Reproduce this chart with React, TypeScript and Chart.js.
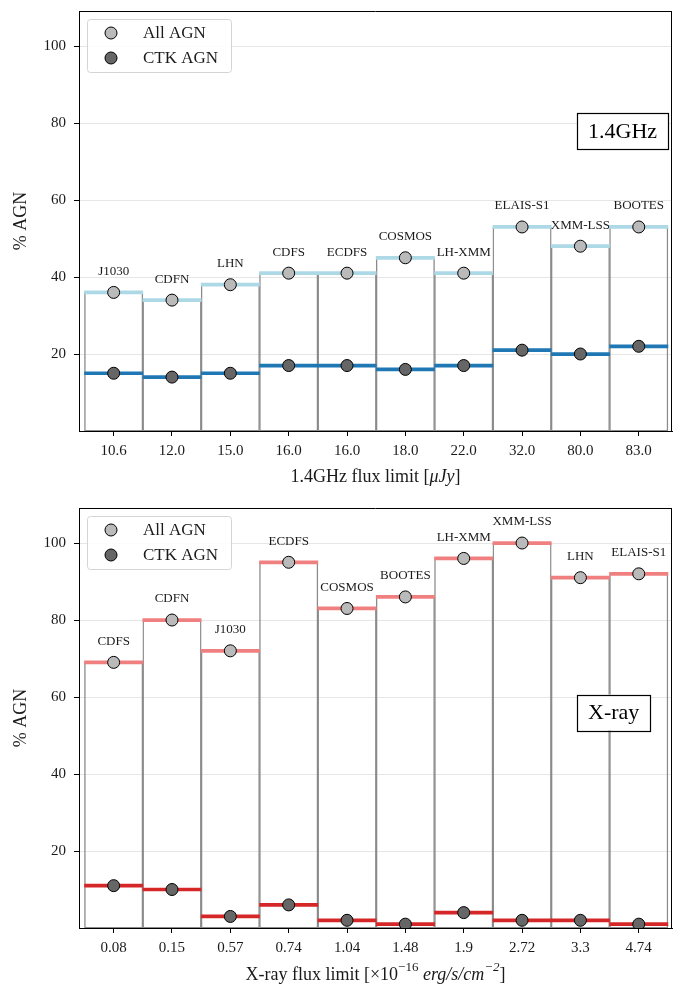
import React, { useEffect, useRef } from 'react';
import { Chart, registerables } from 'chart.js';

Chart.register(...registerables);

// ---------- data ----------
const radioFields = ['J1030', 'CDFN', 'LHN', 'CDFS', 'ECDFS', 'COSMOS', 'LH-XMM', 'ELAIS-S1', 'XMM-LSS', 'BOOTES'];
const radioTicks = ['10.6', '12.0', '15.0', '16.0', '16.0', '18.0', '22.0', '32.0', '80.0', '83.0'];
const radioAll = [36, 34, 38, 41, 41, 45, 41, 53, 48, 53];
const radioCtk = [15, 14, 15, 17, 17, 16, 17, 21, 20, 22];

const xrayFields = ['CDFS', 'CDFN', 'J1030', 'ECDFS', 'COSMOS', 'BOOTES', 'LH-XMM', 'XMM-LSS', 'LHN', 'ELAIS-S1'];
const xrayTicks = ['0.08', '0.15', '0.57', '0.74', '1.04', '1.48', '1.9', '2.72', '3.3', '4.74'];
const xrayAll = [69, 80, 72, 95, 83, 86, 96, 100, 91, 92];
const xrayCtk = [11, 10, 3, 6, 2, 1, 4, 2, 2, 1];

const yTickValues = [20, 40, 60, 80, 100];
const legendLabels = ['All AGN', 'CTK AGN'];

type Seg = { t: string; italic?: boolean; sup?: boolean };
const radioTitle: Seg[] = [{ t: '1.4GHz flux limit [' }, { t: 'μJy', italic: true }, { t: ']' }];
const xrayTitle: Seg[] = [
  { t: 'X-ray flux limit [×10' },
  { t: '−16', sup: true },
  { t: ' ' },
  { t: 'erg/s/cm', italic: true },
  { t: '−2', italic: true, sup: true },
  { t: ']' },
];

const FONT = "'Liberation Serif', 'DejaVu Serif', serif";
const ALL_MARK = '#bababa';
const CTK_MARK = '#666666';

type PanelProps = {
  fields: string[];
  ticks: string[];
  all: number[];
  ctk: number[];
  light: string;
  dark: string;
  title: Seg[];
  tag: string;
  tagY: number;
  height: number;
  top: number;
  titleY: number;
};

function Panel(p: PanelProps) {
  const ref = useRef<HTMLCanvasElement>(null);
  useEffect(() => {
    const idx = p.fields.map((_, i) => i);
    const half = 0.4;

    const decor = {
      id: 'decor',
      afterDatasetsDraw(chart: any) {
        const { ctx, scales, chartArea } = chart;
        const x = scales.x;
        const y = scales.y;
        ctx.save();
        // spines top/right
        ctx.strokeStyle = '#000';
        ctx.lineWidth = 1;
        ctx.beginPath();
        ctx.moveTo(chartArea.left, chartArea.top + 0.5);
        ctx.lineTo(chartArea.right, chartArea.top + 0.5);
        ctx.moveTo(chartArea.right - 0.5, chartArea.top);
        ctx.lineTo(chartArea.right - 0.5, chartArea.bottom);
        ctx.stroke();

        // field labels
        ctx.font = `13px ${FONT}`;
        ctx.fillStyle = '#1a1a1a';
        ctx.textAlign = 'center';
        ctx.textBaseline = 'middle';
        p.fields.forEach((f, i) => {
          ctx.fillText(f, x.getPixelForValue(i), y.getPixelForValue(p.all[i]) - 21);
        });

        // tag box
        ctx.font = `22px ${FONT}`;
        const w = ctx.measureText(p.tag).width;
        const bx = chartArea.left + (chartArea.right - chartArea.left) * 0.8398;
        const cy = chartArea.top + (chartArea.bottom - chartArea.top) * p.tagY;
        const bh = 36;
        const padX = 11;
        ctx.fillStyle = '#fff';
        ctx.fillRect(bx, cy - bh / 2, w + 2 * padX, bh);
        ctx.strokeStyle = '#000';
        ctx.lineWidth = 1.2;
        ctx.strokeRect(Math.round(bx) + 0.5, Math.round(cy - bh / 2) + 0.5, Math.round(w + 2 * padX), bh);
        ctx.fillStyle = '#000';
        ctx.textAlign = 'left';
        ctx.fillText(p.tag, bx + padX, cy + 1);

        // legend
        const lx = chartArea.left + 8;
        const ly = chartArea.top + 8;
        const lw = 144;
        const lh = 53;
        ctx.beginPath();
        ctx.roundRect(lx + 0.5, ly + 0.5, lw, lh, 3);
        ctx.fillStyle = 'rgba(255,255,255,0.85)';
        ctx.fill();
        ctx.strokeStyle = '#d4d4d4';
        ctx.lineWidth = 1;
        ctx.stroke();
        const markColors = [ALL_MARK, CTK_MARK];
        legendLabels.forEach((lab, k) => {
          const my = ly + 14 + k * 25;
          ctx.beginPath();
          ctx.arc(lx + 24, my, 6, 0, Math.PI * 2);
          ctx.fillStyle = markColors[k];
          ctx.fill();
          ctx.strokeStyle = '#000';
          ctx.lineWidth = 1;
          ctx.stroke();
          ctx.fillStyle = '#1a1a1a';
          ctx.font = `17px ${FONT}`;
          ctx.textAlign = 'left';
          ctx.textBaseline = 'middle';
          ctx.fillText(lab, lx + 56, my + 1);
        });

        // x-axis title (rich text)
        const base = 18;
        const fontFor = (s: Seg) => `${s.italic ? 'italic ' : ''}${s.sup ? Math.round(base * 0.7) : base}px ${FONT}`;
        let total = 0;
        p.title.forEach((s) => {
          ctx.font = fontFor(s);
          total += ctx.measureText(s.t).width;
        });
        let cx = (chartArea.left + chartArea.right) / 2 - total / 2;
        ctx.fillStyle = '#1a1a1a';
        ctx.textAlign = 'left';
        ctx.textBaseline = 'middle';
        p.title.forEach((s) => {
          ctx.font = fontFor(s);
          ctx.fillText(s.t, cx, p.titleY + (s.sup ? -7 : 0));
          cx += ctx.measureText(s.t).width;
        });
        ctx.restore();
      },
    };

    const chart = new Chart(ref.current as HTMLCanvasElement, {
      type: 'bar',
      data: {
        datasets: [
          {
            type: 'bar',
            data: p.all.map((v, i) => ({ x: i, y: [0, v] })) as any,
            backgroundColor: 'rgba(0,0,0,0)',
            borderColor: '#8a8a8a',
            borderWidth: 0.75,
            borderSkipped: false,
            barPercentage: 1,
            categoryPercentage: 1,
            grouped: false,
            order: 5,
          } as any,
          {
            type: 'bar',
            data: p.all.map((v, i) => ({ x: i, y: [v - half, v + half] })) as any,
            backgroundColor: p.light,
            borderWidth: 0,
            barPercentage: 1,
            categoryPercentage: 1,
            grouped: false,
            order: 3,
          } as any,
          {
            type: 'bar',
            data: p.ctk.map((v, i) => ({ x: i, y: [v - half, v + half] })) as any,
            backgroundColor: p.dark,
            borderWidth: 0,
            barPercentage: 1,
            categoryPercentage: 1,
            grouped: false,
            order: 2,
          } as any,
          {
            type: 'scatter',
            label: legendLabels[0],
            data: p.all.map((v, i) => ({ x: i, y: v })),
            pointRadius: 6,
            pointBackgroundColor: ALL_MARK,
            pointBorderColor: '#000',
            pointBorderWidth: 1,
            order: 1,
          } as any,
          {
            type: 'scatter',
            label: legendLabels[1],
            data: p.ctk.map((v, i) => ({ x: i, y: v })),
            pointRadius: 6,
            pointBackgroundColor: CTK_MARK,
            pointBorderColor: '#000',
            pointBorderWidth: 1,
            order: 0,
          } as any,
        ],
      },
      options: {
        responsive: false,
        animation: false,
        events: [],
        layout: { autoPadding: false, padding: { top: 11, right: 1, left: 0, bottom: 0 } },
        plugins: { legend: { display: false }, tooltip: { enabled: false } },
        scales: {
          x: {
            type: 'linear',
            min: -0.594,
            max: 9.57,
            offset: false,
            grid: { drawOnChartArea: false, color: '#000', tickColor: '#000', tickLength: 5, offset: false },
            border: { display: true, color: '#000', width: 1 },
            ticks: {
              font: { family: FONT, size: 15 },
              color: '#1a1a1a',
              padding: 6,
              maxRotation: 0,
              autoSkip: false,
              callback: (v: any) => p.ticks[v as number] ?? '',
            },
            afterBuildTicks: (s: any) => {
              s.ticks = idx.map((v) => ({ value: v }));
            },
            afterFit: (s: any) => {
              s.height = p.height - 11 - 420;
              s.paddingLeft = 0;
              s.paddingRight = 0;
              s.paddingTop = 0;
              s.paddingBottom = 0;
            },
          },
          y: {
            type: 'linear',
            min: 0,
            max: 109.1,
            grid: { color: '#e6e6e6', tickColor: '#000', tickLength: 5, lineWidth: 1 },
            border: { display: true, color: '#000', width: 1 },
            ticks: {
              font: { family: FONT, size: 15 },
              color: '#1a1a1a',
              padding: 8,
            },
            afterBuildTicks: (s: any) => {
              s.ticks = yTickValues.map((v) => ({ value: v }));
            },
            afterFit: (s: any) => {
              s.width = 79;
              s.paddingLeft = 0;
              s.paddingRight = 0;
              s.paddingTop = 0;
              s.paddingBottom = 0;
            },
            title: {
              display: true,
              text: '% AGN',
              font: { family: FONT, size: 18 },
              color: '#1a1a1a',
              padding: { top: 10, bottom: 0 },
            },
          },
        },
      },
      plugins: [decor],
    });
    return () => chart.destroy();
  }, []);
  return (
    <canvas
      ref={ref}
      width={673}
      height={p.height}
      style={{ position: 'absolute', left: 0, top: p.top, width: 673, height: p.height, display: 'block' }}
    />
  );
}

export default function App() {
  return (
    <div style={{ position: 'absolute', left: 0, top: 0, width: 673, height: 985, overflow: 'hidden', background: '#fff' }}>
      <Panel
        fields={radioFields}
        ticks={radioTicks}
        all={radioAll}
        ctk={radioCtk}
        light="#add8e6"
        dark="#1f77b4"
        title={radioTitle}
        tag="1.4GHz"
        tagY={0.2857}
        height={492}
        top={0}
        titleY={477}
      />
      <Panel
        fields={xrayFields}
        ticks={xrayTicks}
        all={xrayAll}
        ctk={xrayCtk}
        light="#f08080"
        dark="#d62728"
        title={xrayTitle}
        tag="X-ray"
        tagY={0.487}
        height={488}
        top={497}
        titleY={478}
      />
    </div>
  );
}
